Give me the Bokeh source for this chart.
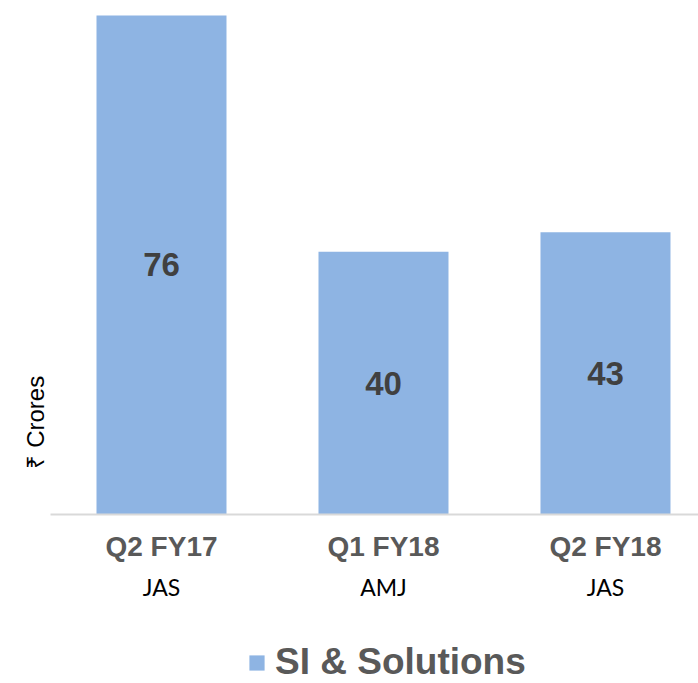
from bokeh.plotting import figure
from bokeh.layouts import column
from bokeh.models import (Range1d, LinearAxis, FixedTicker, Title, Legend,
                          LegendItem, ColumnDataSource)
from bokeh.embed import file_html
from bokeh.resources import INLINE
from bokeh.core.properties import value

quarters = ["Q2 FY17", "Q1 FY18", "Q2 FY18"]
months = ["JAS", "AMJ", "JAS"]
revenue = [76, 40, 43]
series_name = "SI & Solutions"
y_title = "₹ Crores"
bar_color = "#8EB4E3"

xs = list(range(len(quarters)))
src = ColumnDataSource(dict(
    x=xs, top=revenue,
    mid=[v / 2 for v in revenue],
    lbl=[str(v) for v in revenue],
))

p = figure(width=698, height=625, output_backend="svg", toolbar_location=None,
           x_range=Range1d(-0.5, 2.419), y_range=Range1d(0, 76.76),
           min_border_top=10, min_border_left=50, min_border_right=0,
           min_border_bottom=111,
           x_axis_location=None, y_axis_location=None)
p.grid.visible = False
p.outline_line_color = None
p.background_fill_color = "white"
p.border_fill_color = "white"

bars = p.vbar(x="x", top="top", bottom=0, width=0.5856, source=src,
              fill_color=bar_color, line_color=None)

p.text(x="x", y="mid", text="lbl", source=src, text_align="center",
       text_baseline="middle", text_font=value("Liberation Sans"),
       text_font_style="bold", text_font_size="33px", text_color="#404040")

ax1 = LinearAxis(ticker=FixedTicker(ticks=xs),
                 major_label_overrides={i: q for i, q in zip(xs, quarters)})
ax1.axis_line_color = "#d9d9d9"
ax1.axis_line_width = 2
ax1.major_tick_line_color = None
ax1.minor_tick_line_color = None
ax1.major_label_text_font = "Liberation Sans"
ax1.major_label_text_font_style = "bold"
ax1.major_label_text_font_size = "28px"
ax1.major_label_text_color = "#595959"
ax1.major_label_standoff = 10
p.add_layout(ax1, "below")

ax2 = LinearAxis(ticker=FixedTicker(ticks=xs),
                 major_label_overrides={i: m for i, m in zip(xs, months)})
ax2.axis_line_color = None
ax2.major_tick_line_color = None
ax2.minor_tick_line_color = None
ax2.major_label_text_font = "Lato"
ax2.major_label_text_font_size = "23px"
ax2.major_label_text_color = "#000000"
ax2.major_label_standoff = 2
p.add_layout(ax2, "below")

t = Title(text=y_title, align="left", offset=46, text_font="Liberation Sans",
          text_font_size="24px", text_font_style="normal", text_color="#000000",
          standoff=4)
p.add_layout(t, "left")

# legend strip below the chart (its frame is aligned with the chart frame)
q = figure(width=698, height=58, output_backend="svg", toolbar_location=None,
           x_range=Range1d(0, 1), y_range=Range1d(0, 1),
           min_border=0, x_axis_location=None, y_axis_location=None)
q.grid.visible = False
q.outline_line_color = None
q.background_fill_color = "white"
q.border_fill_color = "white"
# zero-area helper renderer that only supplies the legend swatch style
swatch = q.quad(left=[0], right=[0], bottom=[0], top=[0], fill_color=bar_color,
                line_color=None)
legend = Legend(items=[LegendItem(label=series_name, renderers=[swatch])],
                location=(197, 0), orientation="horizontal",
                label_text_font="Liberation Sans", label_text_font_size="37px",
                label_text_font_style="bold", label_text_color="#595959",
                glyph_width=19, glyph_height=19, label_standoff=9,
                border_line_color=None, background_fill_alpha=0,
                padding=0, margin=0)
q.add_layout(legend)

open("out.html", "w").write(file_html(column(p, q, spacing=0), INLINE))
